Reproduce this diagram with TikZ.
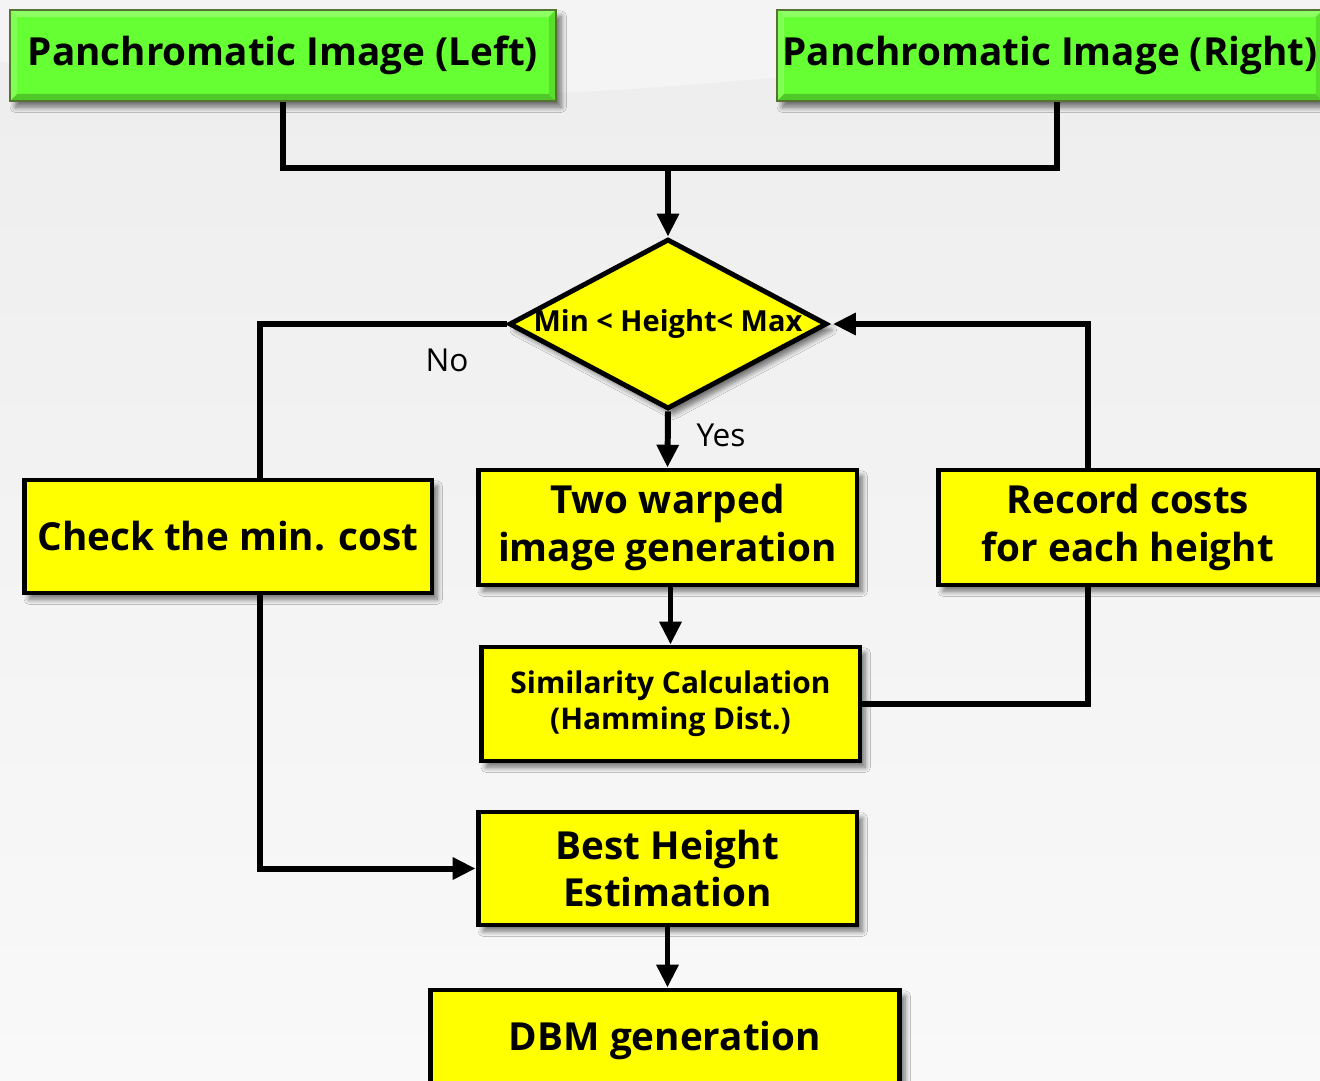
\documentclass[tikz,border=0pt]{standalone}
\usepackage{fontspec}
\setmainfont{Open Sans}
\usetikzlibrary{shapes.geometric,arrows.meta,shadows.blur,calc}
\definecolor{bgtop}{RGB}{237,237,237}
\definecolor{bgbot}{RGB}{249,249,249}
\definecolor{grn}{RGB}{102,255,51}
\definecolor{grnlight}{RGB}{140,255,100}
\definecolor{grndark}{RGB}{80,200,40}
\definecolor{grnedge}{RGB}{85,115,50}
\definecolor{ylw}{RGB}{255,255,0}
\tikzset{
  shd/.style={blur shadow={shadow xshift=3pt, shadow yshift=-3.5pt, shadow blur radius=3pt, shadow blur steps=8, shadow opacity=55}},
  ybox/.style={shd, draw=black, line width=2.8pt, fill=ylw, align=center, inner sep=0pt,
    font=\bfseries\fontsize{22}{27}\selectfont},
  gbox/.style={shd, draw=grnedge, line width=1.2pt, fill=grn, align=center, inner sep=0pt,
    font=\bfseries\fontsize{22}{27}\selectfont,
    path picture={
      \coordinate (pnw) at (path picture bounding box.north west);
      \coordinate (pne) at (path picture bounding box.north east);
      \coordinate (psw) at (path picture bounding box.south west);
      \coordinate (pse) at (path picture bounding box.south east);
      \fill[grnlight] (pnw) -- (pne) -- ([shift={(-4pt,-4pt)}]pne) -- ([shift={(4pt,-4pt)}]pnw) -- cycle;
      \fill[grnlight!70!grn] (pnw) -- (psw) -- ([shift={(4pt,4pt)}]psw) -- ([shift={(4pt,-4pt)}]pnw) -- cycle;
      \fill[grndark] (psw) -- (pse) -- ([shift={(-4pt,4pt)}]pse) -- ([shift={(4pt,4pt)}]psw) -- cycle;
      \fill[grndark!60!grn] (pne) -- (pse) -- ([shift={(-4pt,4pt)}]pse) -- ([shift={(-4pt,-4pt)}]pne) -- cycle;
    }},
  dia/.style={shd, diamond, draw=black, line width=2.8pt, fill=ylw, inner sep=0pt,
    font=\bfseries\fontsize{16.5}{19}\selectfont},
  conn/.style={line width=3.4pt},
  arr/.style={conn, -{Triangle[length=13pt,width=12pt]}},
  lbl/.style={font=\fontsize{18}{21}\selectfont, inner sep=0pt}
}
\begin{document}
\begin{tikzpicture}[x=0.02cm,y=-0.02cm]
\useasboundingbox (0,0) rectangle (1320,1080);
\shade[top color=bgtop, bottom color=bgbot] (0,0) rectangle (1320,1080);
\fill[white, opacity=0.4] (-100,40) .. controls (400,160) and (900,60) .. (1420,0) -- (1420,-20) -- (-100,-20) -- cycle;

% nodes
\node[gbox, minimum width=10.92cm, minimum height=1.82cm] (L) at (283,55.5) {Panchromatic Image (Left)};
\node[gbox, minimum width=10.92cm, minimum height=1.82cm] (R) at (1050,55.5) {Panchromatic Image (Right)};
\node[dia, minimum width=6.36cm, minimum height=3.4cm] (D) at (668,324) {\makebox[0pt]{Min < Height< Max}};
\node[ybox, minimum width=8.16cm, minimum height=2.26cm] (Chk) at (228,536.5) {Check the min. cost};
\node[ybox, minimum width=7.58cm, minimum height=2.3cm] (Two) at (667.5,527.5) {Two warped\\image generation};
\node[ybox, minimum width=7.6cm, minimum height=2.3cm] (Rec) at (1128,527.5) {Record costs\\for each height};
\node[ybox, minimum width=7.58cm, minimum height=2.28cm, font=\bfseries\fontsize{17}{20.5}\selectfont] (Sim) at (670.5,704) {Similarity Calculation\\(Hamming Dist.)};
\node[ybox, minimum width=7.58cm, minimum height=2.26cm] (Best) at (667.5,868.5) {Best Height\\Estimation};
\node[ybox, minimum width=9.4cm, minimum height=2.0cm] (DBM) at (665,1040) {DBM generation};
\node[lbl] (no) at (447,360) {No};
\node[lbl] (yes) at (721,435) {Yes};

% connectors
\coordinate (jn) at (668,168);
\coordinate (rs) at ([xshift=0.14cm]R.south);
\draw[conn] (L.south) -- (L.south |- jn) -- (rs |- jn) -- (rs);
\draw[arr] (jn) -- (D.north);
\coordinate (cn) at ([xshift=0.64cm]Chk.north);
\draw[conn] (D.west) -| (cn);
\coordinate (cs) at ([xshift=0.64cm]Chk.south);
\draw[arr] (cs) |- (Best.west);
\draw[arr] (D.south) -- (Two.north);
\draw[arr] (Two.south -| Sim.north) -- (Sim.north);
\coordinate (rsb) at ([xshift=-0.8cm]Rec.south);
\draw[conn] (Sim.east) -| (rsb);
\coordinate (rnt) at ([xshift=-0.8cm]Rec.north);
\draw[arr, shorten >=2pt] (rnt) |- (D.east);
\draw[arr] (Best.south) -- (Best.south |- DBM.north);
\end{tikzpicture}
\end{document}
